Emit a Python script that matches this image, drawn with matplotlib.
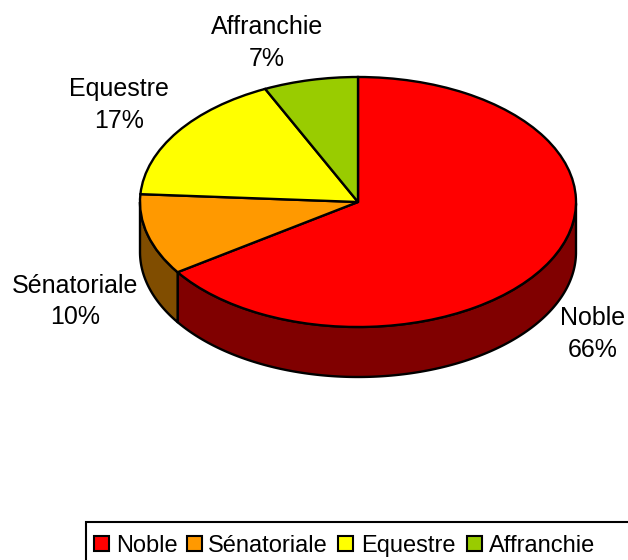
import numpy as np
import matplotlib
matplotlib.use("Agg")
import matplotlib.pyplot as plt
from matplotlib.patches import Rectangle

categories = ["Noble", "Sénatoriale", "Equestre", "Affranchie"]
values = [65.51, 10.49, 17, 7]
colors = ["#ff0000", "#ff9900", "#ffff00", "#99cc00"]
side_colors = ["#800000", "#804d00", "#808000", "#4d6600"]

plt.rcParams["font.family"] = ["Liberation Sans", "DejaVu Sans"]
W, H = 628, 560
CX, CY, RX, RY, DEPTH = 358, 202, 218, 125, 50
K = RX / RY

fig = plt.figure(figsize=(W / 100, H / 100), dpi=100)
ax = fig.add_axes([0, 0, 1, 1])
def yd(py):
    return (H - py) * K

# side walls, built from the slice angles
total = sum(values)
edges = 90 - np.cumsum([0] + values) * 360 / total
for i in range(len(values)):
    a0, a1 = edges[i + 1], edges[i]
    t = np.radians(np.linspace(a0, a1, 300))
    t = t[np.sin(t) <= 0]
    if t.size < 2:
        continue
    xs = CX + RX * np.cos(t)
    ys = yd(CY) + RX * np.sin(t)
    off = DEPTH * K
    ax.fill(np.r_[xs, xs[::-1]], np.r_[ys, ys[::-1] - off],
            fc=side_colors[i], ec="black", lw=1.7, joinstyle="round", zorder=1)

wedges, _ = ax.pie(values, colors=colors, startangle=90, counterclock=False,
                   center=(CX, yd(CY)), radius=RX,
                   wedgeprops=dict(edgecolor="black", linewidth=1.7, zorder=2),
                   frame=False)
ax.set_aspect("auto")
ax.set_xlim(0, W)
ax.set_ylim(0, H * K)
ax.axis("off")

label_pos = [(593, 334), (75, 301.5), (119, 105), (267, 43)]
for c, v, (px, py) in zip(categories, values, label_pos):
    ax.text(px, yd(py), f"{c}\n{round(v)}%", ha="center", va="center", fontsize=18,
            color="black", linespacing=1.42, zorder=5)

# legend frame and entries
ax.add_patch(Rectangle((85.5, yd(575)), 700, yd(521.5) - yd(575), fc="white",
                       ec="black", lw=1.5, zorder=3, clip_on=True))
swatch_x = [94, 187, 338, 467]
text_x = [116, 208, 361, 489]
for c, col, sx, tx in zip(categories, colors, swatch_x, text_x):
    ax.add_patch(Rectangle((sx, yd(550.5)), 14.5, yd(535.5) - yd(550.5), fc=col,
                           ec="black", lw=1.5, zorder=4))
    ax.text(tx, yd(552), c, ha="left", va="baseline", fontsize=17, zorder=5)

fig.savefig("out.png", dpi=100)
